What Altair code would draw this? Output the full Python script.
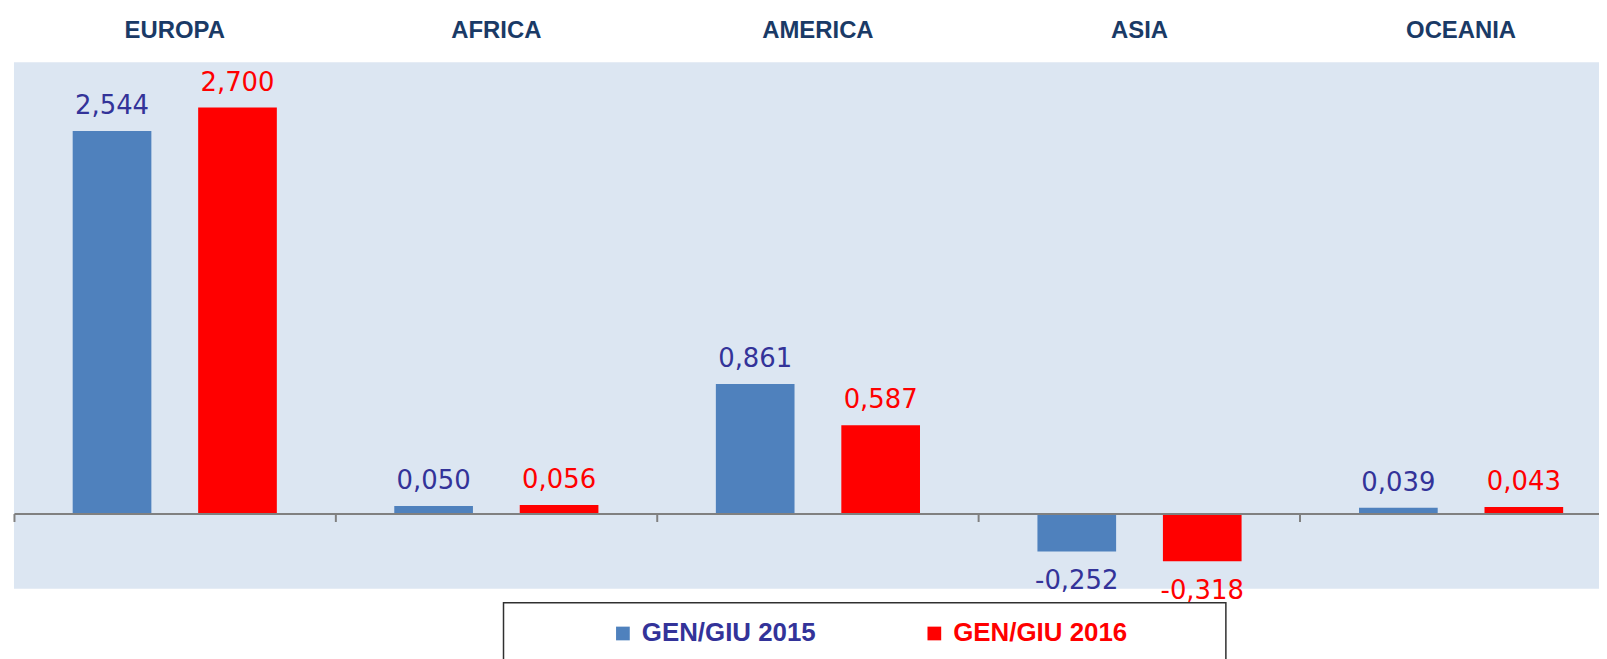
import altair as alt
import pandas as pd

regions = ["EUROPA", "AFRICA", "AMERICA", "ASIA", "OCEANIA"]
series = ["GEN/GIU 2015", "GEN/GIU 2016"]
values_2015 = [2.544, 0.050, 0.861, -0.252, 0.039]
values_2016 = [2.700, 0.056, 0.587, -0.318, 0.043]
bar_colors = ["#4F81BD", "#FF0000"]
label_colors = ["#333399", "#FF0000"]

rows = []
for r, a, b in zip(regions, values_2015, values_2016):
    rows.append({"region": r, "series": series[0], "value": a})
    rows.append({"region": r, "series": series[1], "value": b})
df = pd.DataFrame(rows)

W, H = 1593, 529
Y_MIN, Y_MAX = -0.5, 3.0
zero_offset = (Y_MAX / (Y_MAX - Y_MIN)) * H - H

sans = "Liberation Sans, Arial"

x_scale = alt.Scale(domain=regions, range=[0, 1616], paddingInner=0, paddingOuter=0)
xoff_scale = alt.Scale(domain=series, paddingInner=0.373, paddingOuter=0.468)
y_scale = alt.Scale(domain=[Y_MIN, Y_MAX], nice=False, zero=False)
color_scale = alt.Scale(domain=series, range=bar_colors)

base = alt.Chart(df)

bars = base.mark_bar().encode(
    x=alt.X(
        "region:N", scale=x_scale, sort=regions,
        axis=alt.Axis(orient="top", title=None, domain=False, ticks=False, tickSize=0,
                      labelAngle=0, labelFont=sans, labelFontSize=24, labelFontWeight="bold",
                      labelColor="#1A3A66", labelPadding=25, labelBaseline="alphabetic", grid=False),
    ),
    xOffset=alt.XOffset("series:N", scale=xoff_scale, sort=series),
    y=alt.Y("value:Q", scale=y_scale, axis=None, stack=None),
    y2=alt.datum(0),
    color=alt.Color(
        "series:N", scale=color_scale, sort=series,
        legend=alt.Legend(
            title=None, orient="none", legendX=599, legendY=561, direction="horizontal",
            symbolType="square", symbolSize=190, symbolStrokeWidth=0, padding=0,
            labelFont=sans, labelFontSize=26, labelFontWeight="bold", labelOffset=6,
            labelColor={"expr": "datum.label == 'GEN/GIU 2015' ? '#333399' : '#FF0000'"},
            columnPadding=106, labelLimit=400,
        ),
    ),
)

label_color = alt.condition(
    "datum.series == 'GEN/GIU 2015'", alt.value(label_colors[0]), alt.value(label_colors[1])
)

def text_layer(filter_expr, dy):
    return base.transform_filter(filter_expr).transform_calculate(
        label="replace(replace(format(datum.value, '.3f'), '.', ','), '\u2212', '-')"
    ).mark_text(font="DejaVu Sans", fontSize=26, baseline="alphabetic", dy=dy).encode(
        x=alt.X("region:N", scale=x_scale, sort=regions, axis=None),
        xOffset=alt.XOffset("series:N", scale=xoff_scale, sort=series),
        y=alt.Y("value:Q", scale=y_scale, axis=None),
        text="label:N",
        color=label_color,
    )

pos_text = text_layer("datum.value >= 0", -17)
neg_text = text_layer("datum.value < 0", 38)

zero_axis = base.mark_tick(opacity=0).encode(
    x=alt.X(
        "region:N", scale=x_scale, sort=regions,
        axis=alt.Axis(orient="bottom", offset=zero_offset, title=None, labels=False,
                      domain=True, domainColor="#808080", domainWidth=2,
                      ticks=True, tickColor="#808080", tickWidth=2, tickSize=8,
                      bandPosition=0, grid=False, zindex=1),
    ),
    y=alt.datum(0, scale=y_scale),
)

box = alt.Chart(pd.DataFrame({"a": [0]})).mark_rect(
    fill="white", stroke="#303030", strokeWidth=1.5
).encode(
    x=alt.value(492), x2=alt.value(1218), y=alt.value(543), y2=alt.value(640)
)

chart = alt.layer(box, bars, pos_text, neg_text, zero_axis).resolve_axis(
    x="independent"
).properties(
    width=W, height=H,
    autosize=alt.AutoSizeParams(type="none"),
    padding={"left": 6, "top": 53, "right": 0, "bottom": 69},
    background="white",
).configure_view(fill="#DCE6F2", stroke=None)

chart.save("out.html", embed_options={"renderer": "svg", "actions": False})
